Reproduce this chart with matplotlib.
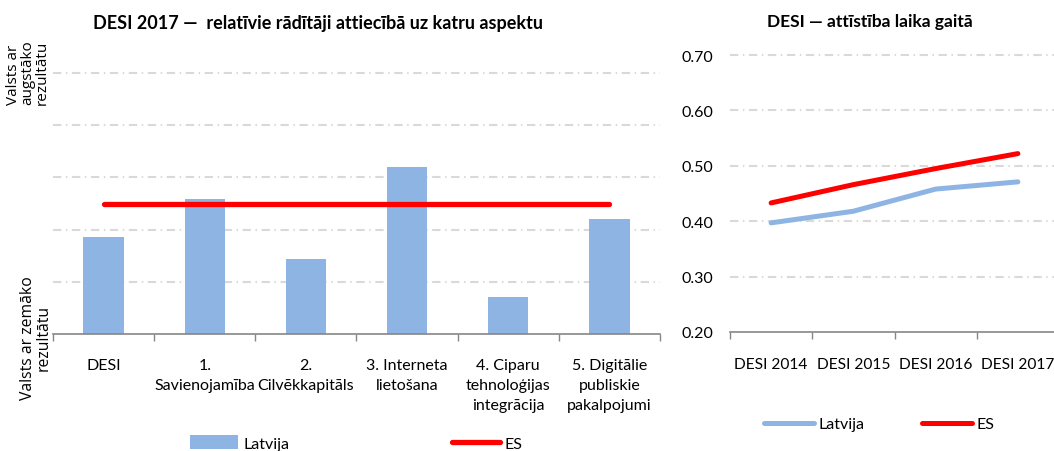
import numpy as np
import matplotlib.pyplot as plt
from matplotlib.patches import Patch
from matplotlib.lines import Line2D

# left chart: relative score for each aspect (grid units, 0 = lowest, 5 = highest)
aspects = ["DESI", "1.\nSavienojamība", "2.\nCilvēkkapitāls", "3. Interneta\nlietošana",
           "4. Ciparu\ntehnoloģijas\nintegrācija", "5. Digitālie\npubliskie\npakalpojumi"]
latvia_rel = [1.86, 2.59, 1.44, 3.20, 0.71, 2.20]
eu_rel = 2.50

# right chart: DESI over time
years = ["DESI 2014", "DESI 2015", "DESI 2016", "DESI 2017"]
latvia_desi = [0.397, 0.418, 0.458, 0.471]
eu_desi = [0.433, 0.466, 0.495, 0.522]
yticks_right = [0.20, 0.30, 0.40, 0.50, 0.60, 0.70]

BLUE = "#8EB4E3"
RED = "#FF0000"
GRID = "#D9D9D9"
AXIS = "#868686"
FONT = ["Lato", "DejaVu Sans"]

plt.rcParams['font.family'] = FONT
plt.rcParams['text.color'] = "#000000"

W, H = 1054, 452
fig = plt.figure(figsize=(W / 100, H / 100), dpi=100)

def frac(x0, y0, x1, y1):
    # pixel box -> figure fraction [left, bottom, width, height]
    return [x0 / W, 1 - y1 / H, (x1 - x0) / W, (y1 - y0) / H]

grid_style = (0, (4, 2.2, 0.7, 2.2))

# ---------- left chart ----------
ax1 = fig.add_axes(frac(53, 74, 660, 335))
x = np.arange(len(aspects))
ax1.bar(x, latvia_rel, width=0.4, color=BLUE, zorder=2)
ax1.plot([x[0], x[-1]], [eu_rel, eu_rel], color=RED, lw=3.8, solid_capstyle='round', zorder=3)
ax1.set_xlim(-0.5, len(aspects) - 0.5)
ax1.set_ylim(0, 5)
for gy in range(1, 6):
    ax1.axhline(gy, color=GRID, lw=1.5, ls=grid_style, zorder=1, clip_on=False)
ax1.set_yticks([])
ax1.set_xticks(np.arange(-0.5, len(aspects)), labels=[])
ax1.set_xticks(x, labels=aspects, minor=True)
ax1.tick_params(axis='x', which='major', length=5, color=AXIS, width=1)
ax1.tick_params(axis='x', which='minor', length=0, pad=17, labelsize=11.5)
for lbl in ax1.get_xticklabels(minor=True):
    lbl.set_linespacing(1.55)
for s in ['top', 'right']:
    ax1.spines[s].set_visible(False)
ax1.spines['left'].set_visible(False)
ax1.spines['bottom'].set_color(AXIS)
ax1.spines['bottom'].set_linewidth(1.2)
fig.text(318 / W, 1 - 23 / H, "DESI 2017 —  relatīvie rādītāji attiecībā uz katru aspektu",
         ha='center', va='center', fontsize=13, fontweight='bold')

fig.text(28 / W, 1 - 73 / H, "Valsts ar\naugstāko\nrezultātu", rotation=90,
         ha='center', va='center', multialignment='left', fontsize=11,
         family=["Open Sans", "DejaVu Sans"], linespacing=0.95)
fig.text(36 / W, 1 - 338 / H, "Valsts ar zemāko\nrezultātu", rotation=90,
         ha='center', va='center', multialignment='center', fontsize=11.3,
         family=["Open Sans", "DejaVu Sans"], linespacing=0.95)

h1 = [Patch(facecolor=BLUE), Line2D([], [], color=RED, lw=3.8, solid_capstyle='round')]
fig.legend(h1, ["Latvija", "ES"], ncol=2, frameon=False, fontsize=11.5,
           loc='center left', bbox_to_anchor=(176 / W, 1 - 444 / H),
           handlelength=3.0, handleheight=0.9, handletextpad=0.3, columnspacing=10.2)

# ---------- right chart ----------
ax2 = fig.add_axes(frac(730, 56, 1059, 333))
xr = np.arange(len(years))
ax2.plot(xr, latvia_desi, color=BLUE, lw=3.6, solid_capstyle='round', zorder=3)
ax2.plot(xr, eu_desi, color=RED, lw=3.6, solid_capstyle='round', zorder=3)
ax2.set_xlim(-0.5, len(years) - 0.5)
ax2.set_ylim(0.2, 0.7)
for gy in yticks_right[1:]:
    ax2.axhline(gy, color=GRID, lw=1.5, ls=grid_style, zorder=1, clip_on=False)
ax2.set_yticks(yticks_right, labels=[f"{v:.2f}" for v in yticks_right])
ax2.tick_params(axis='y', length=0, pad=12, labelsize=11.5)
ax2.set_xticks(np.arange(-0.5, len(years)), labels=[])
ax2.set_xticks(xr, labels=years, minor=True)
ax2.tick_params(axis='x', which='major', length=5, color=AXIS, width=1)
ax2.tick_params(axis='x', which='minor', length=0, pad=18, labelsize=11.2)
for s in ['top', 'right', 'left']:
    ax2.spines[s].set_visible(False)
ax2.spines['bottom'].set_color(AXIS)
ax2.spines['bottom'].set_linewidth(1.2)
fig.text(870 / W, 1 - 22 / H, "DESI — attīstība laika gaitā", ha='center', va='center',
         fontsize=12.5, fontweight='bold')

h2 = [Line2D([], [], color=BLUE, lw=3.6, solid_capstyle='round'),
      Line2D([], [], color=RED, lw=3.6, solid_capstyle='round')]
fig.legend(h2, ["Latvija", "ES"], ncol=2, frameon=False, fontsize=11.5,
           loc='center left', bbox_to_anchor=(750 / W, 1 - 425 / H),
           handlelength=3.1, handletextpad=0.3, columnspacing=3.6)

fig.savefig("out.png", dpi=100)
